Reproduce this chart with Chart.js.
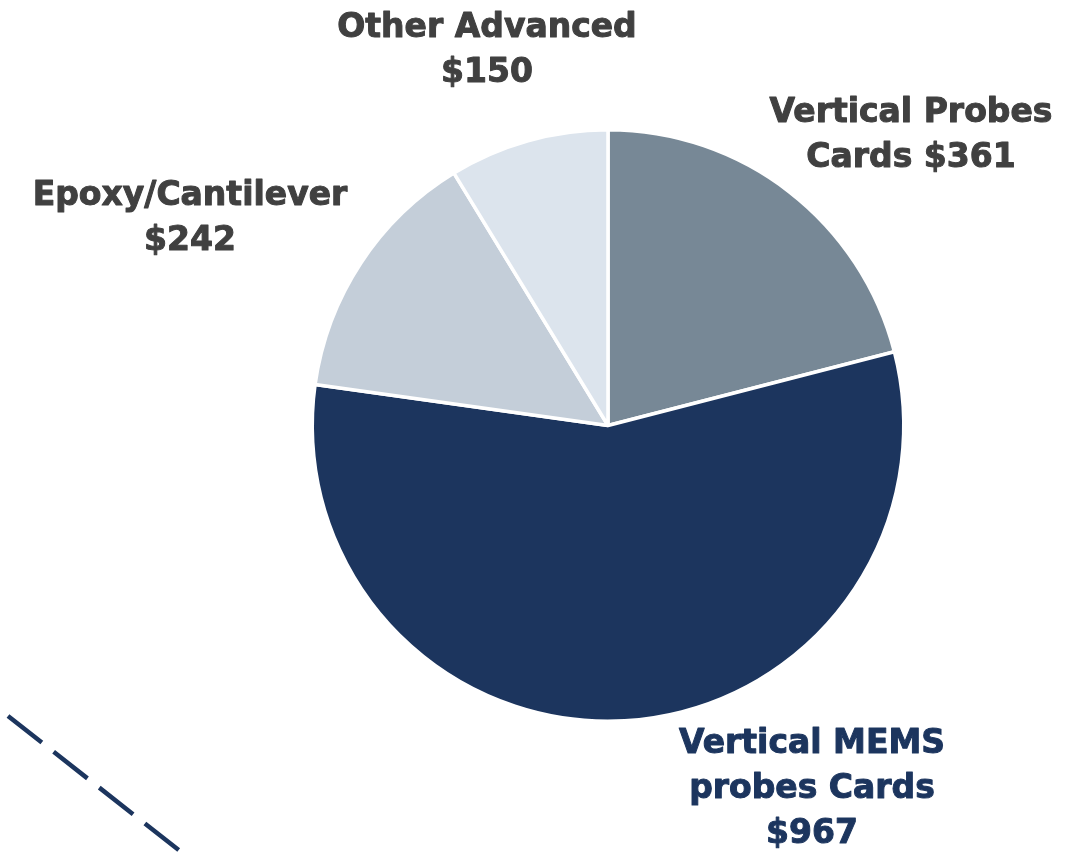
<!DOCTYPE html>
<html>
<head>
<meta charset="utf-8">
<script src="https://cdn.jsdelivr.net/npm/chart.js@4"></script>
<style>
  html, body { margin: 0; padding: 0; background: #fff; }
  #wrap { width: 1078px; height: 853px; }
</style>
</head>
<body>
<div id="wrap"><canvas id="marketPie"></canvas></div>
<script>
// Probe card market segments ($M)
const segments = ['Vertical Probes Cards', 'Vertical MEMS probes Cards', 'Epoxy/Cantilever', 'Other Advanced'];
const values = [361, 967, 242, 150];
const labelLines = [
    ['Vertical Probes', 'Cards $361'],
    ['Vertical MEMS', 'probes Cards', '$967'],
    ['Epoxy/Cantilever', '$242'],
    ['Other Advanced', '$150']
];
const sliceColors = ['#778896', '#1c355e', '#c4ced9', '#dce4ed'];
const labelColors = ['#404040', '#1c355e', '#404040', '#404040'];
// label centre offsets from pie centre (px)
const labelOffsets = [[303, -290], [204, 364], [-418, -207], [-121, -375]];

const sliceLabels = {
    id: 'sliceLabels',
    afterDraw(chart) {
        const ctx = chart.ctx;
        const arc = chart.getDatasetMeta(0).data[0];
        const cx = arc.x, cy = arc.y;
        ctx.save();
        ctx.font = 'bold 33px "DejaVu Sans"';
        ctx.textAlign = 'center';
        ctx.textBaseline = 'middle';
        ctx.lineWidth = 1;
        ctx.lineJoin = 'round';
        const lh = 45;
        labelLines.forEach((lines, i) => {
            ctx.fillStyle = labelColors[i];
            ctx.strokeStyle = labelColors[i];
            const x = cx + labelOffsets[i][0];
            const y0 = cy + labelOffsets[i][1] - (lines.length - 1) * lh / 2;
            lines.forEach((t, j) => {
                ctx.fillText(t, x, y0 + j * lh);
                ctx.strokeText(t, x, y0 + j * lh);
            });
        });
        // stray dashed connector in lower-left corner
        ctx.strokeStyle = '#1c355e';
        ctx.lineWidth = 4.5;
        ctx.setLineDash([43, 15]);
        ctx.beginPath();
        ctx.moveTo(8, 716);
        ctx.lineTo(180, 851);
        ctx.stroke();
        ctx.restore();
    }
};

new Chart(document.getElementById('marketPie'), {
    type: 'pie',
    data: {
        labels: segments,
        datasets: [{
            data: values,
            backgroundColor: sliceColors,
            borderColor: '#ffffff',
            borderWidth: 3.5
        }]
    },
    options: {
        responsive: true,
        maintainAspectRatio: false,
        animation: false,
        layout: { padding: { top: 128, bottom: 130, left: 200, right: 62 } },
        plugins: {
            legend: { display: false },
            tooltip: { enabled: false }
        }
    },
    plugins: [sliceLabels]
});
</script>
</body>
</html>
